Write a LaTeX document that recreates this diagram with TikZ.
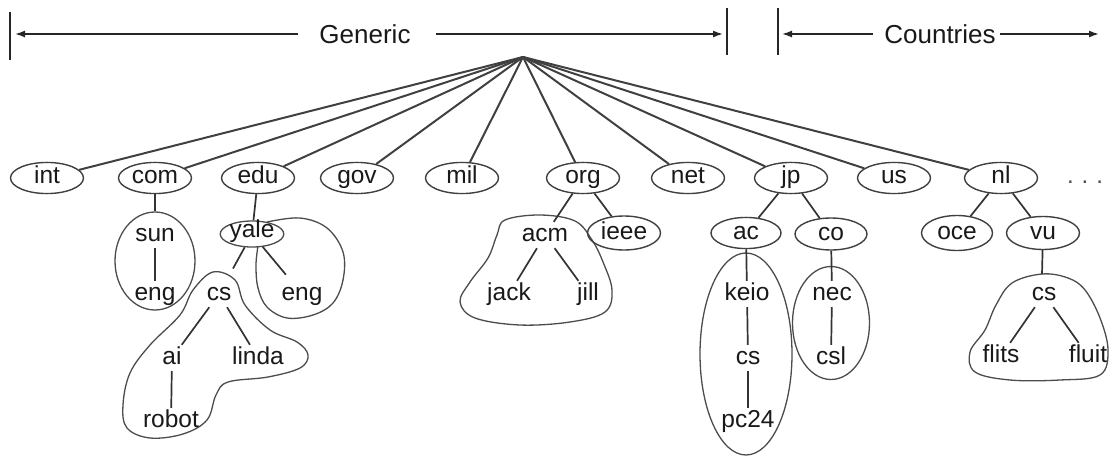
\documentclass[tikz,border=0pt]{standalone}
\usepackage{fontspec}
\setmainfont{Liberation Sans}
\usetikzlibrary{shapes.geometric,arrows.meta}
\tikzset{
 lbl/.style={font=\fontsize{24.5}{28}\selectfont, inner sep=2pt, text=black!90, text height=17pt, text depth=5pt},
 head/.style={font=\fontsize{26}{30}\selectfont, inner sep=0pt, text=black!90, anchor=base},
 topell/.style={lbl, ellipse, draw=black!75, line width=1.4pt, minimum width=73pt, minimum height=31pt, inner sep=0pt},
 subell/.style={topell, minimum width=71pt, minimum height=32pt},
 hull/.style={draw=black!70, line width=1.3pt},
 hullell/.style={ellipse, draw=black!70, line width=1.3pt, inner sep=0pt},
 rootedge/.style={draw=black!75, line width=2pt},
 treeedge/.style={draw=black!80, line width=1.7pt},
 bar/.style={draw=black!85, line width=1.8pt},
 arr/.style={draw=black!85, line width=1.5pt, -{Latex[length=10pt,width=7pt]}},
}
\begin{document}
\begin{tikzpicture}[x=1pt,y=-1pt]
\useasboundingbox (0,0) rectangle (1110,457);

% top headings
\node[head] (gen) at (365,44) {Generic};
\node[head] (cty) at (940,44) {Countries};
\coordinate (barLa) at (10,12);  \coordinate (barLb) at (10,60);
\coordinate (barMa) at (727,8);  \coordinate (barMb) at (727,55);
\coordinate (barNa) at (778,8);  \coordinate (barNb) at (778,55);
\coordinate (g1a) at (298,34); \coordinate (g1b) at (15,34);
\coordinate (g2a) at (436,34); \coordinate (g2b) at (723,34);
\coordinate (c1a) at (873,34); \coordinate (c1b) at (782,34);
\coordinate (c2a) at (1000,34); \coordinate (c2b) at (1099,34);
\draw[bar] (barLa) -- (barLb);
\draw[bar] (barMa) -- (barMb);
\draw[bar] (barNa) -- (barNb);
\draw[arr] (g1a) -- (g1b);
\draw[arr] (g2a) -- (g2b);
\draw[arr] (c1a) -- (c1b);
\draw[arr] (c2a) -- (c2b);

% root and top level
\coordinate (root) at (523,57);
\node[topell] (int) at (47,178) {int};
\node[topell] (com) at (155,178) {com};
\node[topell] (edu) at (258,178) {edu};
\node[topell] (gov) at (357,178) {gov};
\node[topell] (mil) at (462,178) {mil};
\node[topell] (org) at (583,178) {org};
\node[topell] (net) at (688,178) {net};
\node[topell] (jp) at (791,178) {jp};
\node[topell] (us) at (894,178) {us};
\node[topell] (nl) at (1001,178) {nl};
\node[font=\fontsize{24}{28}\selectfont, text=black!70, inner sep=0pt] (dots) at (1085,182) {.\hspace{8pt}.\hspace{8pt}.};

\foreach \n in {int,com,edu,gov,mil,org,net,jp,us,nl}
  \draw[rootedge] (root) -- (\n);

% com subtree
\node[hullell, minimum width=80pt, minimum height=98pt] (sunhull) at (155,261) {};
\node[lbl] (sun) at (155,235) {sun};
\node[lbl] (eng1) at (155,294) {eng};
\draw[treeedge] (com) -- (sunhull);
\draw[treeedge] (sun) -- (eng1);

% edu subtree
\node[lbl, ellipse, draw=black!70, line width=1.3pt, minimum width=62pt, minimum height=26pt, inner sep=0pt, text height=12pt, text depth=5pt] (yale) at (252,234) {yale};
\draw[hull] plot[smooth, tension=0.6] coordinates {(267,222) (300,218) (327,228) (343,252) (343,280) (333,303) (313,315) (287,318) (267,307) (258,288) (256,265) (258,246)};
\draw[hull] plot[smooth cycle, tension=0.6] coordinates {(213,272) (235,280) (245,305) (270,330) (297,342) (308,355) (300,368) (268,377) (228,382) (216,395) (207,420) (183,434) (150,438) (127,428) (123,405) (130,373) (150,345) (180,315) (193,290)};
\node[lbl] (cs1) at (219,294) {cs};
\node[lbl] (eng2) at (302,294) {eng};
\node[lbl] (ai) at (172,358) {ai};
\node[lbl] (linda) at (258,358) {linda};
\node[lbl] (robot) at (171,421) {robot};
\draw[treeedge] (edu) -- (yale);
\draw[treeedge, shorten >=14pt] (yale) -- (cs1);
\draw[treeedge, shorten >=8pt] (yale) -- (eng2);
\draw[treeedge] (cs1) -- (ai);
\draw[treeedge] (cs1) -- (linda);
\draw[treeedge] (ai) -- (robot);

% org subtree
\draw[hull] plot[smooth cycle, tension=0.6] coordinates {(505,220) (540,215) (575,221) (592,240) (603,262) (612,290) (605,312) (570,322) (520,325) (475,318) (460,302) (470,282) (488,258) (497,235)};
\node[lbl] (acm) at (545,235) {acm};
\node[subell, minimum width=73pt, minimum height=34pt] (ieee) at (624,233) {ieee};
\node[lbl] (jack) at (509,294) {jack};
\node[lbl] (jill) at (588,294) {jill};
\draw[treeedge] (org) -- (acm);
\draw[treeedge] (org) -- (ieee);
\draw[treeedge] (acm) -- (jack);
\draw[treeedge] (acm) -- (jill);

% jp subtree
\node[subell, minimum width=70pt, minimum height=31pt] (ac) at (746,233) {ac};
\node[subell, minimum width=72pt, minimum height=32pt] (co) at (831,234) {co};
\node[hullell, minimum width=92pt, minimum height=202pt] (keiohull) at (746,354) {};
\node[hullell, minimum width=77pt, minimum height=113pt] (nechull) at (831,323) {};
\node[lbl] (keio) at (747,294) {keio};
\node[lbl] (cs2) at (748,358) {cs};
\node[lbl] (pc24) at (748,421) {pc24};
\node[lbl] (nec) at (832,294) {nec};
\node[lbl] (csl) at (831,358) {csl};
\draw[treeedge] (jp) -- (ac);
\draw[treeedge] (jp) -- (co);
\draw[treeedge] (ac) -- (keio);
\draw[treeedge] (keio) -- (cs2);
\draw[treeedge] (cs2) -- (pc24);
\draw[treeedge] (co) -- (nec);
\draw[treeedge] (nec) -- (csl);

% nl subtree
\node[subell, minimum width=71pt, minimum height=35pt] (oce) at (957,233) {oce};
\node[subell, minimum width=73pt, minimum height=33pt] (vu) at (1043,233) {vu};
\draw[hull] plot[smooth cycle, tension=0.6] coordinates {(1042,274) (1012,283) (996,305) (985,330) (970,352) (975,372) (1010,380) (1060,380) (1100,375) (1108,350) (1100,318) (1085,290) (1068,278)};
\coordinate (vuhull) at (1042,274);
\node[lbl] (cs3) at (1044,294) {cs};
\node[lbl] (flits) at (1001,356) {flits};
\node[lbl] (fluit) at (1088,356) {fluit};
\draw[treeedge] (nl) -- (oce);
\draw[treeedge] (nl) -- (vu);
\draw[treeedge] (vu) -- (vuhull);
\draw[treeedge] (cs3) -- (flits);
\draw[treeedge] (cs3) -- (fluit);
\end{tikzpicture}
\end{document}
